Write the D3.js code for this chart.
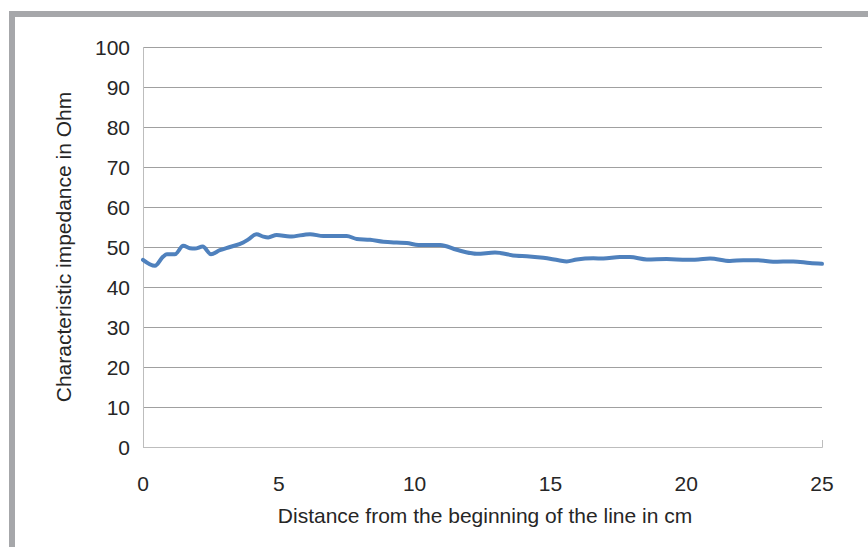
<!DOCTYPE html>
<html><head><meta charset="utf-8">
<script src="https://cdn.jsdelivr.net/npm/d3@7"></script>
<style>
html,body{margin:0;padding:0;background:#fff;}
svg{display:block;}
text{font-family:"Liberation Sans",Arial,sans-serif;fill:#262626;}
</style></head>
<body>
<svg id="chart" width="868" height="547"></svg>
<script>
const distance = [0,0.44,0.74,0.88,1.18,1.48,1.73,1.91,2.2,2.5,2.83,3.2,3.69,3.88,4.18,4.43,4.61,4.92,5.41,6.15,6.64,7.5,7.87,8.36,8.85,9.34,9.71,10.14,10.32,10.94,11.55,12.29,12.96,13.76,14.13,14.74,15.3,15.6,15.97,16.58,16.95,17.56,17.93,18.55,19.28,20.02,20.45,20.88,21.61,22.1,22.65,23.2,23.94,24.55,25];
const impedance = [46.8,45.3,47.6,48.2,48.2,50.3,49.7,49.6,50.1,48.2,49.2,50.0,51.1,51.9,53.2,52.6,52.4,53.0,52.6,53.2,52.75,52.75,52.0,51.8,51.3,51.1,51.0,50.5,50.5,50.5,49.3,48.3,48.6,47.8,47.7,47.3,46.7,46.4,46.9,47.2,47.1,47.5,47.5,46.9,47.0,46.8,46.9,47.1,46.5,46.7,46.7,46.3,46.4,46.0,45.8];
const yTicks = [0,10,20,30,40,50,60,70,80,90,100];
const xTicks = [0,5,10,15,20,25];
const xTitle = "Distance from the beginning of the line in cm";
const yTitle = "Characteristic impedance in Ohm";

const svg = d3.select("#chart");
// outer frame
svg.append("path").attr("d","M12,547 V14 H868").attr("fill","none").attr("stroke","#a6a7aa").attr("stroke-width",6);

const x = d3.scaleLinear().domain([0,25]).range([143,822]);
const y = d3.scaleLinear().domain([0,100]).range([447,47]);

// gridlines
svg.append("g").selectAll("line").data(yTicks.filter(d=>d>0)).join("line")
  .attr("x1",x(0)).attr("x2",x(25)).attr("y1",d=>y(d)+0.5).attr("y2",d=>y(d)+0.5)
  .attr("stroke","#a0a0a0").attr("stroke-width",1);

// axes lines
svg.append("line").attr("x1",x(0)+0.5).attr("x2",x(0)+0.5).attr("y1",y(100)).attr("y2",y(0)+0.5).attr("stroke","#bdbdbd");
svg.append("line").attr("x1",x(0)).attr("x2",x(25)+0.5).attr("y1",y(0)+0.5).attr("y2",y(0)+0.5).attr("stroke","#bdbdbd");
svg.append("line").attr("x1",x(25)+0.5).attr("x2",x(25)+0.5).attr("y1",y(0)-7).attr("y2",y(0)+0.5).attr("stroke","#bdbdbd");

// y tick labels
svg.append("g").selectAll("text").data(yTicks).join("text")
  .attr("x",130).attr("y",d=>y(d)).attr("dy","0.36em").attr("text-anchor","end")
  .attr("font-size",21).text(d=>d);
// x tick labels
svg.append("g").selectAll("text").data(xTicks).join("text")
  .attr("x",d=>x(d)).attr("y",491).attr("text-anchor","middle")
  .attr("font-size",21).text(d=>d);

svg.append("text").attr("x",485).attr("y",523).attr("text-anchor","middle").attr("font-size",21).text(xTitle);
svg.append("text").attr("transform","translate(71,247) rotate(-90)").attr("text-anchor","middle").attr("font-size",21).text(yTitle);

const line = d3.line().x((d,i)=>x(distance[i])).y(d=>y(d)).curve(d3.curveMonotoneX);
svg.append("path").attr("d",line(impedance)).attr("fill","none").attr("stroke","#4f81bd")
  .attr("stroke-width",4).attr("stroke-linejoin","round").attr("stroke-linecap","round");
</script>
</body></html>
